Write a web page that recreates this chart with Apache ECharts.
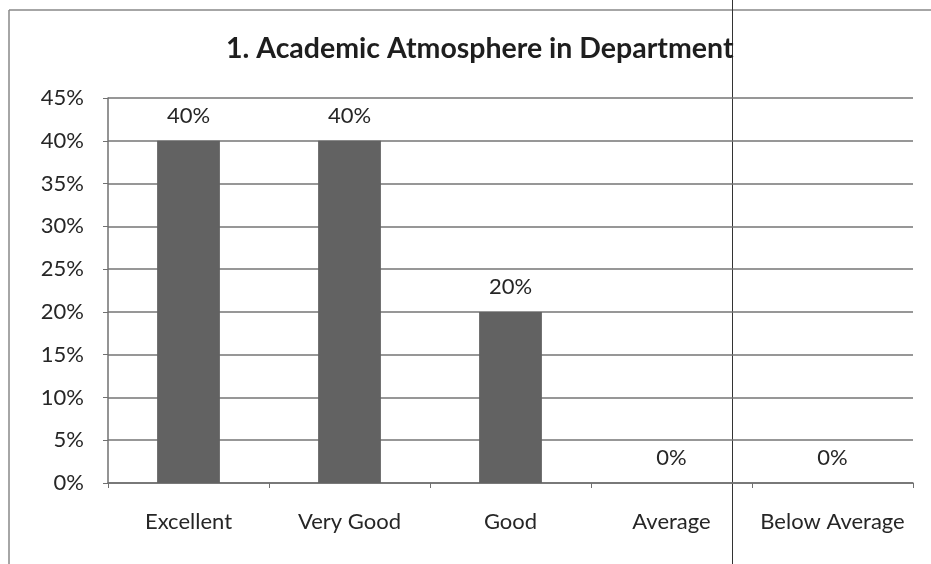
<!DOCTYPE html>
<html>
<head>
<meta charset="utf-8">
<script src="https://cdn.jsdelivr.net/npm/echarts@6/dist/echarts.min.js"></script>
<style>
  html, body { margin: 0; padding: 0; background: #fff; }
  #chart { width: 931px; height: 564px; }
</style>
</head>
<body>
<div id="chart"></div>
<script>
let categories = ["Excellent", "Very Good", "Good", "Average", "Below Average"];
let shares = [40, 40, 20, 0, 0];
let yTicks = [0, 5, 10, 15, 20, 25, 30, 35, 40, 45];

let chart = echarts.init(document.getElementById("chart"));
let font = "Lato, 'Open Sans', sans-serif";

chart.setOption({
    animation: false,
    backgroundColor: "#fff",
    title: {
        text: "1. Academic Atmosphere in Department",
        left: 221,
        top: 29,
        textStyle: { fontFamily: font, fontSize: 28.5, fontWeight: "bold", color: "#1e1e1e" }
    },
    grid: { left: 108, right: 18, top: 98, bottom: 81 },
    xAxis: {
        type: "category",
        data: categories,
        axisLine: { lineStyle: { color: "#707070", width: 1.5 } },
        axisTick: { show: true, length: 5, lineStyle: { color: "#707070" } },
        axisLabel: { margin: 28, fontFamily: font, fontSize: 22, color: "#262626", interval: 0 }
    },
    yAxis: {
        type: "value",
        min: yTicks[0],
        max: yTicks[yTicks.length - 1],
        interval: 5,
        axisLine: { show: true, lineStyle: { color: "#707070", width: 1.5 } },
        axisTick: { show: true, length: 5, lineStyle: { color: "#707070" } },
        axisLabel: { margin: 24, fontFamily: font, fontSize: 22, color: "#262626", formatter: v => v + "%" },
        splitLine: { lineStyle: { color: "#747474", width: 1.5 } }
    },
    series: [{
        type: "bar",
        data: shares,
        barWidth: "39%",
        itemStyle: { color: "#626262" },
        label: {
            show: true,
            position: "top",
            distance: 14,
            formatter: p => p.value + "%",
            fontFamily: font,
            fontSize: 22,
            color: "#262626"
        }
    }],
    graphic: [
        { type: "line", shape: { x1: 9, y1: 10, x2: 931, y2: 10 }, style: { stroke: "#888", lineWidth: 1.5 } },
        { type: "line", shape: { x1: 9, y1: 10, x2: 9, y2: 564 }, style: { stroke: "#888", lineWidth: 1.5 } },
        { type: "line", shape: { x1: 732.5, y1: 0, x2: 732.5, y2: 564 }, style: { stroke: "#333", lineWidth: 1 } }
    ]
});
</script>
</body>
</html>
